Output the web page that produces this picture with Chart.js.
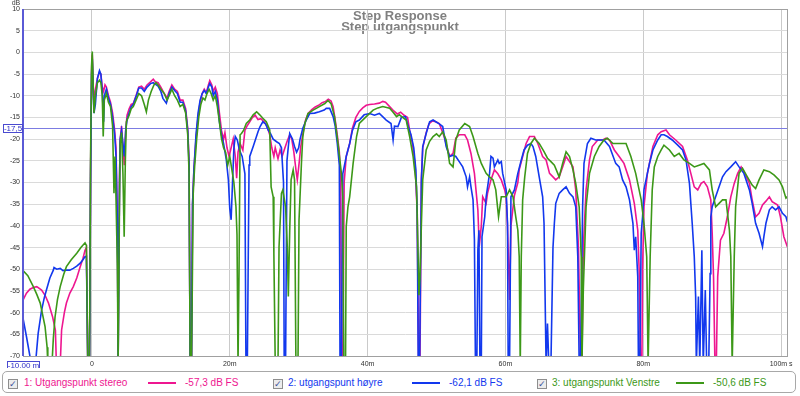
<!DOCTYPE html>
<html lang="no">
<head>
<meta charset="UTF-8">
<title>Step Response - Step utgangspunkt</title>
<script src="https://cdn.jsdelivr.net/npm/chart.js"></script>
<style>
  body { margin: 0; background: #fff; font-family: "Liberation Sans", Arial, sans-serif; }
  #wrap { position: relative; width: 800px; height: 396px; }
  #legend { position: absolute; left: 2px; top: 371px; width: 794px; height: 22px; border: 1px solid #a8a8a8; border-radius: 5px; box-sizing: border-box; }
  .item { position: absolute; top: 377px; font-size: 10px; line-height: 12px; white-space: nowrap; }
  .chk { position: absolute; top: 379px; width: 8px; height: 8px; border: 1px solid #8e8e8e; background: #ececec; font-size: 9px; line-height: 8px; text-align: center; color: #3a4e9a; }
  .swatch { position: absolute; top: 382px; width: 28px; height: 2px; }
</style>
</head>
<body>
<div id="wrap">
  <canvas id="stepChart" width="800" height="368"></canvas>
  <div id="legend"></div>
</div>

<script>
// Tittel og akser
const titleLines = ["Step Response", "Step utgangspunkt"];
const xTicks = [0, 20, 40, 60, 80, 100];
const xTickLabels = ["0", "20m", "40m", "60m", "80m", "100m s"];
const yTicks = [10, 5, 0, -5, -10, -15, -20, -25, -30, -35, -40, -45, -50, -55, -60, -65, -70];
const cursorDb = -17.5;
const cursorTimeLabel = "-10,00 m";
const cursorDbLabel = "-17,5";

// Serier: [tid ms, dB]
const seriesNames = ["1: Utgangspunkt stereo", "2: utgangspunt høyre", "3: utgangspunkt Venstre"];
const seriesLevels = ["-57,3 dB FS", "-62,1 dB FS", "-50,6 dB FS"];
const seriesColors = ["#ee1690", "#1238ee", "#3c9818"];

const stereo = [[-10,-57.1],[-9.5,-55.5],[-9,-54.6],[-8.5,-54.2],[-8,-54],[-7.3,-54.8],[-6.8,-56],[-6.3,-57.8],[-5.7,-61],[-5.3,-64],[-5.15,-72],[-4.6,-72],[-4.4,-64],[-4.0,-60],[-3.7,-57.8],[-3.2,-55.5],[-2.7,-54],[-2.2,-52],[-1.7,-49.4],[-1.3,-47.5],[-1,-45.6],[-0.8,-45],[-0.6,-72],[-0.35,-72],[-0.2,-28],[-0.05,-4],[0.05,-0.5],[0.25,-11],[0.45,-9],[0.8,-6],[1.1,-4.5],[1.3,-5],[1.5,-8],[1.7,-9],[1.9,-7.5],[2.1,-8],[2.4,-10],[2.7,-11.5],[3.0,-14],[3.3,-18],[3.5,-22],[3.7,-40],[3.8,-72],[3.9,-72],[4.0,-30],[4.1,-20],[4.3,-17],[4.5,-22],[4.7,-26],[4.9,-18],[5.1,-14.5],[5.4,-13],[5.7,-12],[6.0,-11.8],[6.4,-10],[6.8,-8],[7.2,-7.8],[7.6,-8.5],[8.0,-7.5],[8.5,-6.8],[8.9,-6.2],[9.2,-6.8],[9.6,-7],[10.0,-8],[10.5,-9.5],[10.9,-10.5],[11.2,-9],[11.6,-7.5],[12.0,-8.5],[12.4,-9],[12.8,-11],[13.2,-11],[13.6,-13],[13.9,-17.5],[14.1,-25],[14.25,-72],[14.45,-72],[14.6,-35],[14.8,-27],[15.1,-20],[15.4,-15],[15.7,-11.5],[16.0,-9.5],[16.3,-8.5],[16.6,-9.3],[16.9,-7.5],[17.1,-6.5],[17.4,-7.5],[17.6,-9],[17.9,-8],[18.2,-9.5],[18.5,-14],[18.8,-18],[19.1,-20],[19.3,-18.5],[19.6,-22],[19.9,-24],[20.2,-22],[20.5,-20],[20.8,-24],[21.0,-29],[21.2,-23],[21.5,-21],[21.9,-22.5],[22.2,-18],[22.5,-17],[22.9,-16],[23.3,-15],[23.7,-14.5],[24.1,-15.5],[24.5,-15.3],[25.0,-16],[25.4,-17],[25.8,-19],[26.1,-22],[26.4,-24],[26.6,-22],[27.0,-24.5],[27.3,-22.5],[27.6,-24],[27.9,-22.5],[28.3,-20.6],[28.7,-19],[29.0,-20],[29.3,-23],[29.6,-27],[29.8,-29.4],[30.1,-25],[30.3,-21.7],[30.7,-18],[31.0,-15.6],[31.4,-14],[31.9,-13.2],[32.4,-12.6],[32.9,-12.2],[33.4,-11.6],[33.9,-11.3],[34.3,-10.8],[34.7,-11.2],[35.0,-12.5],[35.3,-15.6],[35.6,-19],[35.9,-23],[36.1,-30],[36.2,-72],[36.4,-72],[36.6,-30],[36.9,-24],[37.4,-21],[37.8,-17.5],[38.3,-15],[38.8,-13.6],[39.3,-12.8],[39.8,-12.2],[40.3,-12],[41.0,-11.9],[41.7,-11.7],[42.2,-11.3],[42.6,-11.5],[43.2,-12.5],[43.8,-13.5],[44.3,-14.2],[44.8,-13.8],[45.3,-14.5],[45.8,-15],[46.1,-18],[46.5,-21],[46.9,-26],[47.2,-37],[47.4,-72],[47.6,-72],[47.8,-29],[48.0,-22],[48.5,-18.5],[48.9,-16.5],[49.4,-15.8],[49.9,-16],[50.4,-16.4],[51.1,-19.4],[51.9,-24],[52.4,-23.3],[52.8,-19.8],[53.3,-19],[54.1,-19],[54.5,-20.2],[55.0,-23.3],[55.5,-27.9],[56.0,-36.3],[56.2,-44.8],[56.5,-40],[56.7,-33.3],[57.2,-34.8],[57.4,-32.5],[57.9,-29.4],[58.4,-27.1],[58.9,-28],[59.4,-29.4],[59.9,-31.7],[60.1,-33.3],[60.3,-40],[60.6,-57.1],[60.8,-40],[61.3,-33],[61.8,-30],[62.0,-27.1],[62.5,-24],[63.0,-21],[63.5,-19.4],[64.2,-19.4],[64.7,-21],[65.4,-24],[65.9,-24.8],[66.4,-27.9],[66.9,-28.7],[67.3,-29.4],[67.8,-28.7],[68.3,-26.4],[68.8,-24],[69.3,-25.2],[69.8,-26.4],[70.2,-31.7],[70.6,-45],[70.9,-72],[71.1,-72],[71.3,-45],[71.7,-31.7],[72.2,-24.8],[72.6,-21.7],[73.4,-20.2],[74.1,-20.2],[74.6,-19.8],[75.1,-20.2],[75.8,-22.5],[76.5,-24],[77.2,-25.6],[78.0,-29.4],[78.7,-34.8],[79.2,-41],[79.4,-50],[79.6,-72],[79.8,-72],[79.9,-50],[80.1,-35.6],[80.6,-27.9],[81.4,-21.7],[82.1,-19],[82.6,-18.3],[83.3,-17.9],[83.8,-19],[84.7,-20.2],[85.7,-21.7],[86.4,-24.8],[86.9,-27.9],[87.4,-31],[87.9,-31.7],[88.4,-30.2],[88.8,-29.8],[89.3,-31],[89.8,-34],[90.0,-41.7],[90.2,-52],[90.4,-72],[90.6,-72],[90.8,-51.7],[91.2,-43.3],[91.7,-41.7],[92.2,-37.9],[92.7,-33.3],[93.2,-30.2],[93.7,-27.9],[94.2,-26.4],[94.6,-27.5],[95.4,-30.2],[95.8,-34],[96.3,-37.9],[96.8,-37.1],[97.3,-35.2],[97.8,-34.3],[98.3,-33.3],[98.7,-34.4],[99.5,-35.2],[99.9,-37.9],[100.4,-42.5],[100.9,-44.8],[101.2,-45]];

const hoyre = [[-10,-61.3],[-9.5,-65.5],[-9,-70],[-8.8,-72],[-8.2,-72],[-7.8,-64.8],[-7.3,-59.4],[-6.9,-56.5],[-6.6,-54.8],[-6.1,-52],[-5.6,-50.2],[-5.5,-49.6],[-5.1,-50],[-4.6,-49.8],[-4.2,-50.3],[-3.7,-50.2],[-3.2,-50.2],[-2.7,-49.8],[-2.2,-49.3],[-1.7,-48.6],[-1.3,-47.8],[-1,-47.1],[-0.8,-47],[-0.6,-72],[-0.35,-72],[-0.2,-30],[-0.05,-5],[0.05,-1.5],[0.3,-14],[0.5,-12],[0.8,-6],[1.1,-4.2],[1.3,-5],[1.5,-9],[1.7,-16],[1.8,-10],[2.1,-8.5],[2.4,-10.5],[2.7,-12],[3.0,-15],[3.3,-19],[3.5,-24],[3.7,-40],[3.8,-72],[3.9,-72],[4.0,-30],[4.1,-20],[4.3,-18],[4.5,-21],[4.7,-24],[4.9,-18],[5.1,-15.5],[5.4,-14],[5.7,-12.5],[6.0,-12],[6.4,-10.2],[6.8,-8.2],[7.2,-8.2],[7.6,-9],[8.0,-8],[8.5,-7.2],[8.9,-7],[9.2,-7.3],[9.6,-7.8],[10.0,-9],[10.3,-10.6],[10.8,-11.7],[11.2,-9.5],[11.6,-8],[12.0,-8.8],[12.4,-9.5],[12.8,-11.5],[13.2,-11.5],[13.6,-13.5],[13.9,-18],[14.1,-26],[14.25,-72],[14.45,-72],[14.6,-35],[14.8,-27],[15.1,-19],[15.4,-14],[15.7,-11],[16.0,-9.5],[16.3,-8.8],[16.6,-9.5],[16.9,-8],[17.1,-7.2],[17.4,-8],[17.6,-10],[17.9,-9],[18.2,-11],[18.5,-16],[18.8,-19],[19.1,-21],[19.5,-24.8],[19.8,-29.4],[20.0,-36],[20.2,-38.6],[20.4,-30],[20.6,-22],[20.8,-19.4],[21.1,-20.2],[21.4,-22.5],[21.8,-24],[22.2,-28],[22.35,-72],[22.55,-72],[22.8,-26],[22.9,-24],[23.4,-21.7],[24.1,-18.3],[24.4,-17.1],[24.8,-16],[25.2,-16.5],[25.6,-18],[25.9,-18.7],[26.3,-20],[26.8,-20.6],[27.2,-21],[27.5,-22],[27.8,-30],[27.9,-72],[28.1,-72],[28.3,-25],[28.5,-21.7],[28.7,-18.7],[29.1,-20],[29.4,-21.7],[29.7,-23],[30.0,-22],[30.2,-20],[30.6,-17.5],[31.1,-15.6],[31.6,-14.1],[32.3,-14],[33.0,-13.7],[33.7,-13.3],[34.0,-12.9],[34.5,-12.9],[35.0,-14.8],[35.3,-17],[35.6,-21],[35.9,-26],[36.0,-72],[36.2,-72],[36.4,-28],[36.9,-24],[37.4,-21],[37.8,-18],[38.3,-16],[38.8,-15.6],[39.5,-14.4],[40.3,-14.1],[41.0,-14.5],[41.7,-14.1],[42.3,-15],[42.7,-15.6],[43.4,-16.4],[43.7,-20.2],[43.9,-17],[44.4,-17.1],[44.9,-15],[45.5,-14.8],[45.9,-17.1],[46.3,-19],[46.7,-22],[47.0,-27],[47.2,-37],[47.35,-72],[47.55,-72],[47.8,-30],[48.0,-21.7],[48.5,-18.7],[49.0,-16],[49.5,-15.6],[49.9,-16],[50.4,-16.5],[50.9,-17.1],[51.4,-21.7],[51.9,-24],[52.4,-23.7],[52.8,-24],[53.3,-25.2],[53.8,-26.4],[54.3,-28.7],[54.5,-31],[54.8,-28.7],[55.0,-31],[55.3,-34],[55.5,-43.2],[55.65,-72],[55.85,-72],[56.0,-45.6],[56.15,-41],[56.3,-72],[56.5,-72],[56.6,-42.5],[57.0,-37.9],[57.2,-33.3],[57.7,-27.9],[57.9,-24],[58.2,-24.4],[58.4,-26.4],[58.9,-24.8],[59.1,-25.6],[59.4,-25.2],[59.6,-27.9],[60.1,-31.7],[60.3,-39.4],[60.4,-72],[60.6,-72],[60.8,-33.3],[61.3,-31.7],[61.8,-27.9],[62.3,-24.8],[62.7,-22.5],[63.2,-21.4],[63.7,-21],[64.0,-21.7],[64.4,-24],[64.9,-28.7],[65.4,-33.3],[65.6,-39.4],[65.9,-72],[66.1,-62.5],[66.3,-72],[66.6,-72],[66.9,-45],[67.1,-39.4],[67.3,-34.8],[67.8,-32.5],[68.3,-31.7],[68.8,-31],[69.3,-32.5],[69.8,-33.3],[70.2,-35.6],[70.5,-47.1],[70.7,-72],[70.9,-72],[71.1,-47.1],[71.2,-35.6],[71.4,-25.6],[71.9,-21],[72.4,-19.8],[73.1,-20.2],[73.9,-20.2],[74.3,-20.2],[75.1,-21.7],[76.0,-25.6],[76.5,-26.4],[77.0,-29.4],[77.5,-31],[78.0,-34],[78.5,-39.4],[78.7,-45.6],[78.9,-42.5],[79.2,-51.7],[79.3,-72],[79.5,-72],[79.7,-41.7],[79.9,-37.9],[80.1,-31.7],[80.4,-29.4],[80.9,-25.6],[81.4,-22.5],[82.1,-20.2],[82.6,-19],[83.0,-19],[83.5,-19.4],[84.2,-20.2],[85.0,-21.4],[85.7,-22.5],[86.2,-24.8],[86.7,-30.2],[87.1,-39.4],[87.4,-47.1],[87.6,-56.3],[87.7,-72],[88.0,-56.3],[88.2,-72],[88.5,-45.6],[88.7,-72],[89.0,-54.8],[89.2,-72],[89.5,-72],[89.7,-51],[89.8,-37.9],[90.0,-35.6],[90.5,-33.3],[91.0,-31],[91.5,-28.7],[92.0,-27.5],[92.7,-26.4],[93.4,-25.2],[93.9,-26.4],[94.6,-27.9],[95.4,-31.7],[95.8,-34.8],[96.3,-39.4],[96.8,-41.7],[97.3,-44.8],[97.5,-42.5],[97.8,-39.4],[98.3,-36.3],[98.7,-35.6],[99.2,-36.3],[99.7,-35.6],[100.2,-37.1],[100.7,-37.9],[100.9,-39],[101.2,-39.5]];

const venstre = [[-10,-50.3],[-9.3,-51.5],[-8.5,-54],[-8.0,-55.8],[-7.5,-57.8],[-6.8,-63.2],[-6.5,-68],[-6.4,-72],[-5.8,-72],[-5.6,-66],[-5.35,-61],[-5.0,-57],[-4.6,-54],[-4.1,-51.2],[-3.7,-49.4],[-3.0,-47.8],[-2.2,-46.3],[-1.6,-45],[-1,-43.9],[-0.8,-44.5],[-0.6,-72],[-0.35,-72],[-0.2,-25],[-0.05,-3],[0.05,0.2],[0.3,-14],[0.5,-10],[0.8,-7],[1.1,-6.4],[1.3,-7],[1.5,-10],[1.64,-19.4],[1.8,-11],[2.1,-9.5],[2.4,-11.5],[2.7,-12.5],[3.0,-17],[3.2,-32.5],[3.35,-24],[3.5,-34],[3.7,-50],[3.8,-72],[3.9,-72],[4.0,-35],[4.1,-21],[4.3,-18.5],[4.5,-28],[4.68,-42.5],[4.85,-25],[5.0,-16],[5.4,-14.5],[5.7,-13],[6.0,-12.5],[6.4,-11],[6.8,-9.5],[7.2,-10],[7.6,-12],[7.9,-13.7],[8.2,-11],[8.6,-9],[9.0,-7.5],[9.3,-7],[9.6,-7.5],[10.0,-8.5],[10.5,-9.5],[10.9,-11],[11.2,-10],[11.6,-8.5],[12.0,-10],[12.4,-11],[12.8,-12.5],[13.2,-12],[13.6,-14],[13.9,-19],[14.1,-28],[14.25,-72],[14.45,-72],[14.7,-32.5],[14.9,-26.4],[15.2,-20],[15.5,-15],[15.8,-12],[16.1,-10.5],[16.4,-11],[16.7,-9.5],[17.0,-8.5],[17.3,-9.5],[17.6,-11],[17.9,-10],[18.2,-12.5],[18.5,-16],[18.8,-19.9],[19.1,-22],[19.4,-23],[19.7,-26],[20.0,-24],[20.3,-27],[20.6,-30],[20.9,-35.6],[21.05,-42],[21.2,-72],[21.35,-50],[21.5,-19],[21.7,-18.7],[22.0,-18],[22.4,-16.4],[22.9,-15.6],[23.4,-14.4],[23.9,-13.7],[24.35,-14.4],[24.8,-15.2],[25.3,-16],[25.8,-17.9],[26.0,-31],[26.3,-33.3],[26.4,-46.3],[26.6,-72],[27.0,-72],[27.15,-44.8],[27.5,-32.5],[27.7,-31.7],[28.1,-35.6],[28.35,-44.8],[28.5,-56.3],[28.7,-41],[28.9,-29.4],[29.2,-27.1],[29.4,-29.4],[29.6,-72],[29.9,-72],[30.05,-38.7],[30.4,-25.6],[30.6,-19.4],[30.9,-16.4],[31.35,-14.1],[32.1,-13.3],[33.0,-12.5],[33.8,-11.8],[34.25,-11.1],[34.7,-11.8],[35.2,-14.8],[35.7,-21],[36.2,-27.9],[36.4,-33.3],[36.55,-72],[36.8,-72],[36.9,-40.2],[37.15,-35.6],[37.4,-33.3],[37.9,-25.6],[38.4,-19.4],[38.8,-16.4],[39.8,-14.8],[40.8,-13.3],[41.5,-12.8],[42.2,-12.5],[43.2,-12.9],[43.7,-13.8],[44.2,-14.8],[44.6,-14.4],[45.6,-15.6],[46.1,-19.4],[46.6,-24],[47.1,-31],[47.3,-45],[47.45,-56],[47.6,-52],[47.8,-40],[48.0,-29.4],[48.5,-22.5],[49.0,-20.5],[49.5,-19.4],[50.0,-18.8],[50.4,-19.4],[50.9,-18.3],[51.4,-20.2],[51.9,-25.6],[52.4,-26.4],[52.8,-20.2],[53.3,-17.9],[54.1,-16.4],[54.8,-17.1],[55.3,-19.4],[56.0,-23.3],[56.5,-25.6],[57.2,-27.9],[57.7,-28.7],[58.2,-29.4],[58.6,-31.7],[59.0,-37.9],[59.4,-33.3],[60.1,-33.3],[60.6,-31.7],[61.1,-33.3],[61.5,-37.9],[61.8,-41],[62.0,-47.1],[62.15,-72],[62.3,-47.1],[62.5,-34],[62.8,-28.7],[63.2,-23.3],[63.7,-21],[64.2,-19.8],[64.9,-21],[65.6,-22.9],[66.1,-24.4],[66.6,-25.2],[67.1,-26],[67.8,-28.7],[68.3,-25.6],[68.8,-22.9],[69.3,-24],[69.8,-27.1],[70.2,-30.2],[70.7,-35.6],[71.0,-47.1],[71.1,-72],[71.3,-54.8],[71.7,-35.6],[72.2,-27.9],[72.9,-24],[73.6,-21.7],[74.3,-20.2],[74.8,-19.8],[75.6,-21],[76.5,-21],[77.5,-21],[78.2,-24],[78.9,-27.9],[79.7,-34],[80.1,-39.4],[80.5,-47.1],[80.7,-72],[81.0,-47.1],[81.3,-31.7],[81.6,-26.4],[82.1,-24],[82.6,-22.5],[83.0,-21.4],[83.8,-22.5],[84.5,-24],[85.2,-23.3],[85.9,-24.8],[86.7,-25.6],[87.4,-26.4],[88.1,-26],[88.8,-25.6],[89.6,-27.1],[90.0,-31.7],[90.5,-35.6],[91.0,-34.8],[91.5,-34],[92.0,-34],[92.5,-41],[92.7,-47.1],[92.9,-72],[93.2,-47.1],[93.4,-35.6],[93.9,-27.9],[94.4,-26.7],[95.1,-28.7],[95.8,-30.6],[96.3,-31.4],[96.8,-29.4],[97.5,-27.1],[98.3,-27.5],[99.0,-28.3],[99.7,-29.4],[100.2,-31],[100.7,-33.6],[100.9,-33.3],[101.2,-33.5]];

const allSeries = [stereo, hoyre, venstre];
const FONT = '"Liberation Sans", Arial, sans-serif';

// Tittel, markører og ramme (REW-stil)
const overlay = {
    id: "overlay",
    beforeDraw(chart) {
        const ctx = chart.ctx;
        ctx.save();
        ctx.fillStyle = "#808080";
        ctx.font = "bold 13px " + FONT;
        ctx.textAlign = "center";
        ctx.textBaseline = "middle";
        ctx.fillText(titleLines[0], 400, 16);
        ctx.fillText(titleLines[1], 400, 27);
        ctx.restore();
    },
    beforeDatasetsDraw(chart) {
        const { ctx, chartArea: a, scales: { y } } = chart;
        const yc = Math.round(y.getPixelForValue(cursorDb)) + 0.5;
        ctx.save();
        ctx.strokeStyle = "#7c7ce2";
        ctx.lineWidth = 1;
        ctx.beginPath();
        ctx.moveTo(a.left, yc);
        ctx.lineTo(a.right, yc);
        ctx.stroke();
        ctx.restore();
    },
    afterDraw(chart) {
        const { ctx, chartArea: a, scales: { y } } = chart;
        ctx.save();
        // ramme
        ctx.strokeStyle = "#a0a0a0";
        ctx.lineWidth = 1;
        ctx.strokeRect(a.left + 0.5, a.top + 0.5, a.right - a.left - 1, a.bottom - a.top);
        ctx.strokeStyle = "#5a5ad6";
        ctx.lineWidth = 2;
        ctx.beginPath();
        ctx.moveTo(a.left, a.top);
        ctx.lineTo(a.left, a.bottom);
        ctx.stroke();

        ctx.font = "7px " + FONT;
        ctx.textBaseline = "middle";
        ctx.textAlign = "center";
        ctx.fillStyle = "#404040";
        ctx.fillText("dB", 16, 3);

        // markørbokser
        ctx.font = "8px " + FONT;
        const yc = Math.round(y.getPixelForValue(cursorDb));
        ctx.lineWidth = 1;
        ctx.fillStyle = "#fff";
        ctx.fillRect(3, yc - 4, 20, 9);
        ctx.strokeStyle = "#4a4ad0";
        ctx.strokeRect(3.5, yc - 3.5, 19, 8);
        ctx.fillStyle = "#3030c8";
        ctx.fillText(cursorDbLabel, 13, yc + 0.5);

        ctx.fillStyle = "#fff";
        ctx.fillRect(7, 361, 33, 9);
        ctx.strokeRect(7.5, 361.5, 32, 8);
        ctx.fillStyle = "#3030c8";
        ctx.fillText(cursorTimeLabel, 23.5, 366);
        ctx.restore();
    }
};

new Chart(document.getElementById("stepChart"), {
    type: "line",
    data: {
        datasets: [2, 1, 0].map(i => ({
            label: seriesNames[i],
            data: allSeries[i].map(p => ({ x: p[0], y: p[1] })),
            borderColor: seriesColors[i],
            borderWidth: 1.6,
            pointRadius: 0,
            tension: 0,
            fill: false
        }))
    },
    options: {
        responsive: false,
        animation: false,
        devicePixelRatio: 1,
        layout: { padding: { left: 0, right: 12, top: 9, bottom: 0 } },
        plugins: { legend: { display: false }, tooltip: { enabled: false } },
        scales: {
            x: {
                type: "linear",
                min: -10,
                max: 101,
                afterBuildTicks: s => { s.ticks = xTicks.map(v => ({ value: v })); },
                afterFit: s => { s.height = 12; },
                grid: { color: "#cacaca", drawTicks: false },
                border: { display: false },
                ticks: {
                    padding: 4,
                    maxRotation: 0,
                    autoSkip: false,
                    color: "#303030",
                    font: { family: FONT, size: 7 },
                    callback: v => xTickLabels[xTicks.indexOf(v)]
                }
            },
            y: {
                min: -70,
                max: 10,
                afterBuildTicks: s => { s.ticks = yTicks.map(v => ({ value: v })); },
                afterFit: s => { s.width = 23; },
                grid: { color: "#dadada", drawTicks: false },
                border: { display: false },
                ticks: {
                    padding: 3,
                    color: "#303030",
                    font: { family: FONT, size: 7 },
                    callback: v => String(v)
                }
            }
        }
    },
    plugins: [overlay]
});

// Forklaring nederst
const legend = document.getElementById("wrap");
const chkX = [8, 273, 537], nameX = [24, 288, 552], lineX = [148, 412, 676], valX = [185, 449, 713];
seriesNames.forEach((name, i) => {
    legend.insertAdjacentHTML("beforeend",
        `<span class="chk" style="left:${chkX[i]}px">✓</span>
         <span class="item" style="left:${nameX[i]}px;color:${seriesColors[i]}">${name}</span>
         <span class="swatch" style="left:${lineX[i]}px;background:${seriesColors[i]}"></span>
         <span class="item" style="left:${valX[i]}px;color:${seriesColors[i]}">${seriesLevels[i]}</span>`);
});
</script>
</body>
</html>
